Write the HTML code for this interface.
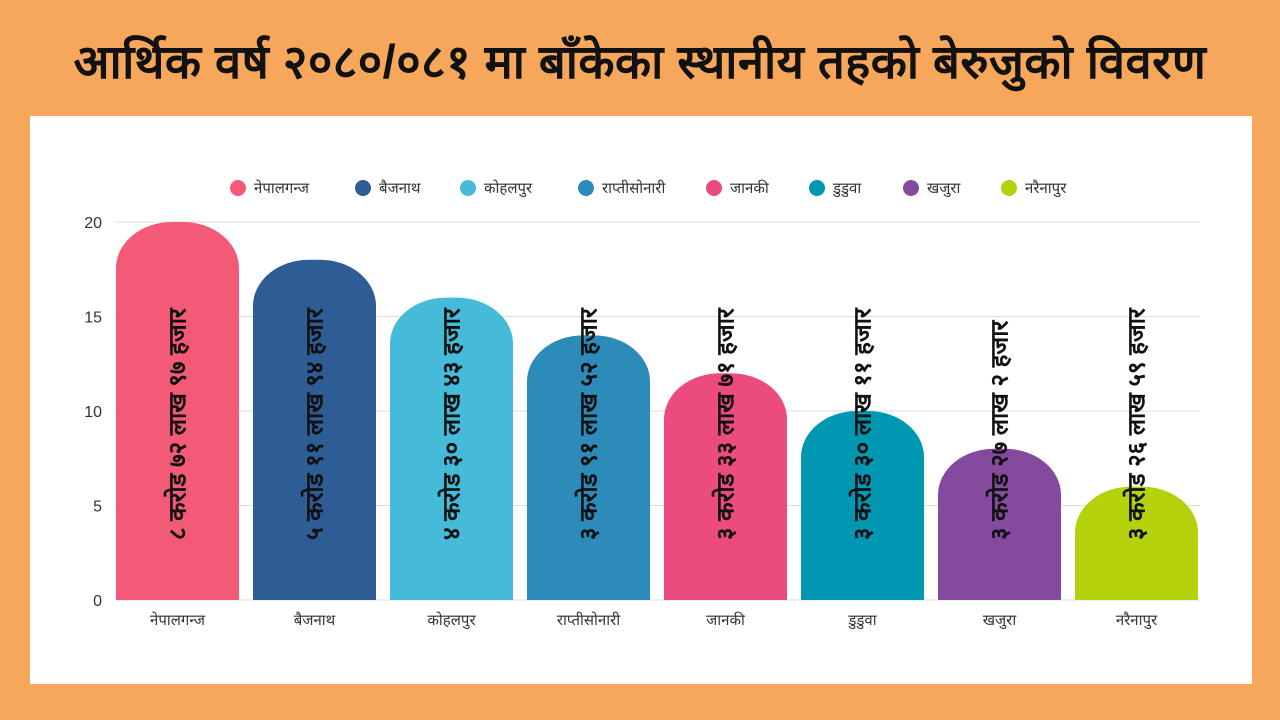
<!DOCTYPE html>
<html><head><meta charset="utf-8"><style>
body{margin:0;width:1280px;height:720px;background:#F6A75C;font-family:"Liberation Sans","DejaVu Sans",sans-serif;overflow:hidden;position:relative}
#title{position:absolute;left:0;top:28px;width:1280px;text-align:center;font-size:47px;font-weight:bold;color:#111;letter-spacing:0.5px}
#panel{position:absolute;left:30px;top:116px;width:1222px;height:568px;background:#fff}
svg{position:absolute;left:0;top:0}
</style></head><body>
<div id="title">आर्थिक वर्ष २०८०/०८१ मा बाँकेका स्थानीय तहको बेरुजुको विवरण</div>
<div id="panel"></div>
<svg id="chart" width="1280" height="720"></svg>
<script>
const categories=["नेपालगन्ज","बैजनाथ","कोहलपुर","राप्तीसोनारी","जानकी","डुडुवा","खजुरा","नरैनापुर"];
const values=[20,18,16,14,12,10,8,6];
const labels=["८ करोड ७२ लाख ९७ हजार","५ करोड ११ लाख ९४ हजार","४ करोड ३० लाख ४३ हजार","३ करोड ९१ लाख ५२ हजार","३ करोड ३३ लाख ७१ हजार","३ करोड ३० लाख ११ हजार","३ करोड २७ लाख २ हजार","३ करोड २६ लाख ५९ हजार"];
const ticks=[0,5,10,15,20];
const colors=["#F25A77","#2E5D96","#45BAD9","#2D8BBA","#EC4C7D","#0097B2","#844A9D","#B4D10C"];
const NS="http://www.w3.org/2000/svg";
const svg=document.getElementById('chart');
const x0=116,step=137,bw=123,yb=600,yt=222,vmax=20;
const y=v=>yb-(yb-yt)*v/vmax;
const xb=i=>x0+i*step;
function mk(t,a){const e=document.createElementNS(NS,t);for(const k in a)e.setAttribute(k,a[k]);svg.appendChild(e);return e;}
ticks.forEach(t=>{
  const l=mk('line',{x1:115,x2:1200,y1:y(t),y2:y(t),stroke:'#ddd','stroke-width':1});
  
  
  const tx=mk('text',{x:102,y:y(t)+6,'text-anchor':'end','font-size':16,fill:'#333'});
  tx.textContent=t;
  
  
});
categories.forEach((c,i)=>{
  const x=xb(i),top=y(values[i]);
  const h=yb-top;
  const rx=56,ry=Math.min(46,h);
  const d=`M${x},${yb} L${x},${top+ry} A${rx},${ry} 0 0 1 ${x+rx},${top} L${x+bw-rx},${top} A${rx},${ry} 0 0 1 ${x+bw},${top+ry} L${x+bw},${yb} Z`;
  const p=mk('path',{d:d,fill:colors[i]});
  
  
  const cx=x+bw/2;
  const lt=mk('text',{x:0,y:0,'font-size':24,'font-weight':'bold',fill:'#111',transform:`translate(${cx+8},540) rotate(-90)`});
  lt.textContent=labels[i];
  
  
  const xt=mk('text',{x:cx,y:625,'text-anchor':'middle','font-size':15,fill:'#333'});
  xt.textContent=c;
  
  
});
const lx=[238,363,468,586,714,817,911,1009];
categories.forEach((c,i)=>{
  const g=mk('g',{});
  
  
  const ci=document.createElementNS(NS,'circle');
  ci.setAttribute('cx',lx[i]);ci.setAttribute('cy',188);ci.setAttribute('r',8);ci.setAttribute('fill',colors[i]);
  g.appendChild(ci);
  const t=document.createElementNS(NS,'text');
  t.setAttribute('x',lx[i]+16);t.setAttribute('y',193);t.setAttribute('font-size',15);t.setAttribute('fill','#333');
  t.textContent=c;g.appendChild(t);
});
</script>
</body></html>
